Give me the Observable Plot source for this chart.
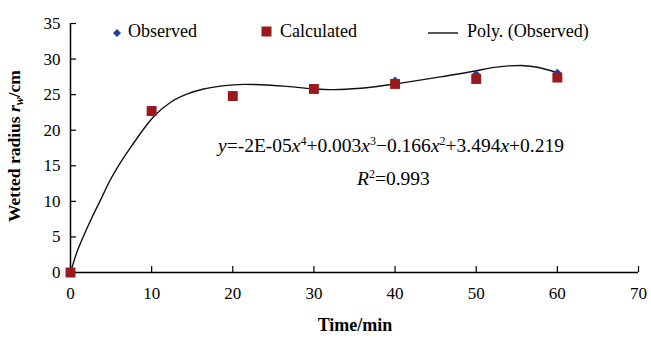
<!DOCTYPE html>
<html><head><meta charset="utf-8">
<script src="https://cdn.jsdelivr.net/npm/d3@7"></script>
<script src="https://cdn.jsdelivr.net/npm/@observablehq/plot@0.6"></script>
<style>
body{margin:0;background:#fff;}
#wrap{position:relative;width:651px;height:338px;font-family:"Liberation Serif","Times New Roman",serif;color:#000;}
#wrap svg text{font-family:"Liberation Serif","Times New Roman",serif;}
.ov{position:absolute;white-space:nowrap;font-size:18px;line-height:20px;}
.ov i{font-style:italic;}
.ov sup{font-size:12px;vertical-align:7px;line-height:0;}
.eq{font-size:19.5px;}
</style>
</head><body>
<div id="wrap"></div>
<script>
// Data
const time = [0, 10, 20, 30, 40, 50, 60];
const observed = [0, 22.6, 24.9, 25.8, 26.9, 27.8, 28.0];
const calculated = [0, 22.7, 24.8, 25.8, 26.5, 27.2, 27.4];
// Polynomial trend line (Poly. (Observed))
const fitTime = [0, 0.74, 1.56, 2.59, 3.62, 4.85, 6.08, 7.73, 9.37, 10.5, 12.3, 14.4, 16.4, 18.5, 21.4, 23.5, 26.3, 30, 32.5, 35.8, 40, 45.6, 50, 52, 54, 55.5, 57.5, 60];
const fitValue = [0, 2.7, 5.0, 7.6, 10.0, 12.9, 15.3, 18.1, 20.7, 22.2, 23.9, 25.1, 25.8, 26.2, 26.45, 26.4, 26.2, 25.8, 25.7, 25.9, 26.5, 27.5, 28.35, 28.8, 29.05, 29.1, 28.85, 28.1];
const xTicks = [0, 10, 20, 30, 40, 50, 60, 70];
const yTicks = [0, 5, 10, 15, 20, 25, 30, 35];

const obsData = time.map((t, i) => ({t, v: observed[i]}));
const calcData = time.map((t, i) => ({t, v: calculated[i]}));
const fitData = fitTime.map((t, i) => ({t, v: fitValue[i]}));

const RED = "#9a1a1c", BLUE = "#1f3f9a";
const SERIF = '"Liberation Serif","Times New Roman",serif';

const chart = Plot.plot({
  width: 651, height: 338,
  marginLeft: 70, marginRight: 13, marginTop: 23, marginBottom: 66,
  style: {fontFamily: SERIF, fontSize: "17px", color: "#000", background: "#fff"},
  x: {domain: [0, 70]},
  y: {domain: [0, 35]},
  marks: [
    Plot.axisX({ticks: xTicks, tickSize: -6, tickPadding: 20, label: null, tickFormat: d => d, fontFamily: SERIF, fontSize: 17, stroke: "#000", strokeWidth: 1.2}),
    Plot.axisY({ticks: yTicks, tickSize: -6, tickPadding: 16, label: null, tickFormat: d => d, fontFamily: SERIF, fontSize: 17, stroke: "#000", strokeWidth: 1.2}),
    Plot.ruleY([0], {stroke: "#000", strokeWidth: 1.5}),
    Plot.ruleX([0], {stroke: "#000", strokeWidth: 1.5}),
    Plot.line(fitData, {x: "t", y: "v", curve: "monotone-x", stroke: "#111", strokeWidth: 1.4}),
    Plot.dot(obsData, {x: "t", y: "v", symbol: "diamond2", r: 4.2, fill: BLUE, stroke: "none"}),
    Plot.dot(calcData, {x: "t", y: "v", symbol: "square", r: 5.6, fill: RED, stroke: "none"})
  ]
});
const wrap = document.getElementById("wrap");
wrap.appendChild(chart);

const svg = d3.select(chart);
svg.selectAll("text").style("font-family", SERIF);

// axis titles
const yl = svg.append("text")
  .attr("transform", "translate(16,146) rotate(-90)")
  .attr("text-anchor", "middle").attr("dominant-baseline", "middle")
  .attr("font-size", 17.5).attr("font-weight", "bold")
  .style("font-family", SERIF);
yl.append("tspan").text("Wetted radius ");
yl.append("tspan").attr("font-style", "italic").text("r");
yl.append("tspan").attr("font-style", "italic").attr("font-size", 12).attr("dy", 4).text("w");
yl.append("tspan").attr("dy", -4).text("/cm");
svg.append("text")
  .attr("x", 355).attr("y", 327)
  .attr("text-anchor", "middle").attr("dominant-baseline", "middle")
  .attr("font-size", 18).attr("font-weight", "bold")
  .style("font-family", SERIF)
  .text("Time/min");

// overlays: legend and equation
function ov(html, left, top, cls) {
  const d = document.createElement("div");
  d.className = "ov" + (cls ? " " + cls : ""); d.style.left = left + "px"; d.style.top = top + "px";
  d.innerHTML = html; wrap.appendChild(d); return d;
}
ov(`<svg width="10" height="10" style="vertical-align:middle"><path d="M5,1L9,5L5,9L1,5Z" fill="${BLUE}"/></svg>`, 112, 21);
ov("Observed", 128, 21);
ov(`<svg width="11" height="11" style="vertical-align:middle"><rect x="0.5" y="0.5" width="10" height="10" fill="${RED}"/></svg>`, 261, 20);
ov("Calculated", 280, 21);
ov(`<svg width="30" height="4" style="vertical-align:middle"><line x1="0" y1="2" x2="30" y2="2" stroke="#111" stroke-width="1.4"/></svg>`, 428, 21);
ov("Poly. (Observed)", 467, 21);
ov(`<i>y</i>=-2E-05<i>x</i><sup>4</sup>+0.003<i>x</i><sup>3</sup>−0.166<i>x</i><sup>2</sup>+3.494<i>x</i>+0.219`, 218, 136, "eq");
ov(`<i>R</i><sup>2</sup>=0.993`, 357, 169, "eq");
</script>
</body></html>
